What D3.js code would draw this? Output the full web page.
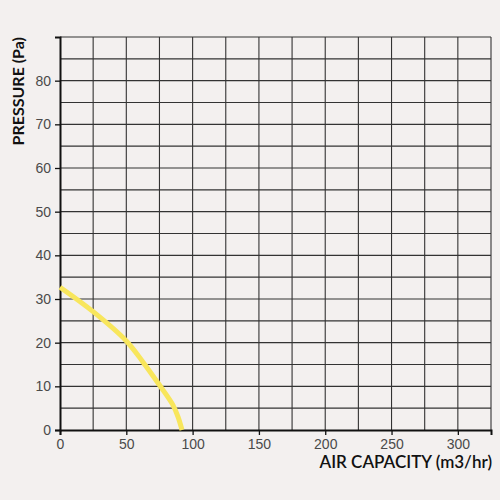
<!DOCTYPE html>
<html>
<head>
<meta charset="utf-8">
<script src="https://cdn.jsdelivr.net/npm/d3@7"></script>
<style>
  body { margin: 0; background: #f3f0ef; }
  svg { display: block; }
</style>
</head>
<body>
<div id="chart"></div>
<script>
// fan curve
const airCapacity = [0, 25, 50, 62.5, 75, 85, 89, 92];
const pressure = [32.7, 27.1, 20.4, 15.6, 10.3, 5.8, 3, 0];
const xTicks = [0, 50, 100, 150, 200, 250, 300];
const yTicks = [0, 10, 20, 30, 40, 50, 60, 70, 80];

let width = 500,
    height = 500;
let margin = { top: 37, right: 9, bottom: 70, left: 60 };

let x = d3.scaleLinear().domain([0, 325]).range([margin.left, width - margin.right]);
let y = d3.scaleLinear().domain([0, 90]).range([height - margin.bottom, margin.top]);

let svg = d3.select("#chart").append("svg")
    .attr("width", width)
    .attr("height", height)
    .style("font-family", "Lato, Inter, sans-serif");

svg.append("rect").attr("width", width).attr("height", height).attr("fill", "#f3f0ef");

// grid every 25 / 5 units
let grid = svg.append("g").attr("stroke", "#333").attr("stroke-width", 1.1);
grid.selectAll("line.v")
    .data(d3.range(25, 326, 25))
    .join("line")
    .attr("x1", d => x(d)).attr("x2", d => x(d))
    .attr("y1", y(0)).attr("y2", y(90));
grid.selectAll("line.h")
    .data(d3.range(5, 91, 5))
    .join("line")
    .attr("x1", x(0)).attr("x2", x(325))
    .attr("y1", d => y(d)).attr("y2", d => y(d));

// axes
let xAxis = svg.append("g")
    .attr("transform", `translate(0,${y(0)})`)
    .call(d3.axisBottom(x).tickValues(xTicks).tickSize(5).tickPadding(4));
let yAxis = svg.append("g")
    .attr("transform", `translate(${x(0)},0)`)
    .call(d3.axisLeft(y).tickValues(yTicks).tickSize(5).tickPadding(4));

[xAxis, yAxis].forEach(a => {
    a.select(".domain").attr("stroke", "#111").attr("stroke-width", 2);
    a.selectAll(".tick line").attr("stroke", "#111").attr("stroke-width", 1.3);
    a.selectAll(".tick text").attr("fill", "#4a4a4a").style("font-size", "14px");
});

// curve
svg.append("path")
    .datum(pressure)
    .attr("d", d3.line().x((d, i) => x(airCapacity[i])).y(d => y(d)).curve(d3.curveCatmullRom))
    .attr("fill", "none")
    .attr("stroke", "#f8e65c")
    .attr("stroke-width", 5);

// labels
svg.append("text")
    .attr("x", x(325) + 1)
    .attr("y", 468)
    .attr("text-anchor", "end")
    .attr("fill", "#111")
    .style("font-size", "17px")
    .style("font-weight", 600)
    .text("AIR CAPACITY (m3/hr)");

svg.append("text")
    .attr("transform", `translate(24,${margin.top}) rotate(-90)`)
    .attr("text-anchor", "end")
    .attr("fill", "#111")
    .style("font-size", "16px")
    .style("font-weight", 700)
    .text("PRESSURE (Pa)");
</script>
</body>
</html>
